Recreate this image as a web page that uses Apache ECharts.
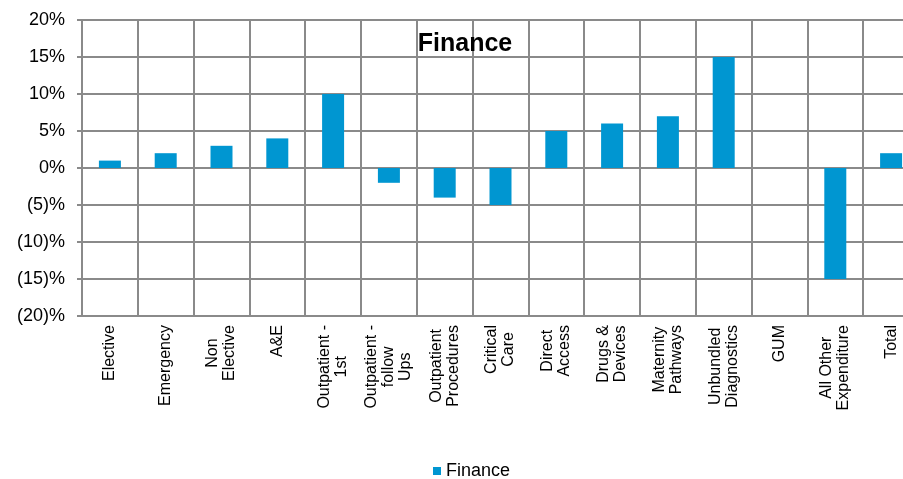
<!DOCTYPE html>
<html>
<head>
<meta charset="utf-8">
<script src="https://cdn.jsdelivr.net/npm/echarts@6/dist/echarts.min.js"></script>
<style>
  html, body { margin: 0; padding: 0; background: #fff; }
  #chart { width: 903px; height: 479px; }
</style>
</head>
<body>
<div id="chart"></div>
<script>
// Spend categories (each label line on its own)
const categories = [
  ['Elective'],
  ['Emergency'],
  ['Non', 'Elective'],
  ['A&E'],
  ['Outpatient -', '1st'],
  ['Outpatient -', 'follow', 'Ups'],
  ['Outpatient', 'Procedures'],
  ['Critical', 'Care'],
  ['Direct', 'Access'],
  ['Drugs &', 'Devices'],
  ['Maternity', 'Pathways'],
  ['Unbundled', 'Diagnostics'],
  ['GUM'],
  ['All Other', 'Expenditure'],
  ['Total']
];

// Variance by category, in percent
const financeValues = [1, 2, 3, 4, 10, -2, -4, -5, 5, 6, 7, 15, 0, -15, 2];

// Value axis range
const yMin = -20;
const yMax = 20;
const yStep = 5;

const seriesName = 'Finance';
const barColor = '#0096d1';
const gridColor = '#8a8a8a';
const font = 'Liberation Sans, Arial, sans-serif';

const chart = echarts.init(document.getElementById('chart'), null, { renderer: 'canvas' });

chart.setOption({
  animation: false,
  backgroundColor: '#ffffff',
  textStyle: { fontFamily: font },
  title: {
    text: 'Finance',
    left: 465,
    top: 32,
    textAlign: 'center',
    padding: 0,
    textStyle: { fontFamily: font, fontSize: 25, fontWeight: 'bold', color: '#000' }
  },
  legend: {
    data: [seriesName],
    left: 433,
    top: 462,
    padding: 0,
    icon: 'rect',
    itemWidth: 8,
    itemHeight: 8,
    itemGap: 5,
    textStyle: { fontFamily: font, fontSize: 18, color: '#000', padding: [0, 0, 0, 0] }
  },
  // the plot runs past the right edge of the canvas, so the last column is cut off
  grid: {
    left: 82, top: 20, width: 837, height: 296,
    containLabel: false,
    outerBoundsMode: 'none'
  },
  xAxis: {
    type: 'category',
    data: categories.map(c => c.join('\n')),
    boundaryGap: true,
    axisLine: { show: false, onZero: false },
    axisTick: { show: false },
    splitLine: { show: true, lineStyle: { color: gridColor, width: 2 } },
    axisLabel: {
      interval: 0,
      rotate: 90,
      margin: 9,
      fontFamily: font,
      fontSize: 16,
      lineHeight: 17,
      color: '#000',
      formatter: v => v.split('\n').map(s => '{c|' + s + '}').join('\n'),
      rich: {
        c: { align: 'center', fontFamily: font, fontSize: 16, lineHeight: 17, color: '#000' }
      }
    }
  },
  yAxis: {
    type: 'value',
    min: yMin,
    max: yMax,
    interval: yStep,
    axisLine: { show: true, lineStyle: { color: gridColor, width: 2 } },
    axisTick: { show: true, length: 5, lineStyle: { color: gridColor, width: 2 } },
    splitLine: { show: true, lineStyle: { color: gridColor, width: 2 } },
    axisLabel: {
      margin: 17,
      fontFamily: font,
      fontSize: 18,
      color: '#000',
      formatter: v => v < 0 ? '(' + (-v) + ')%' : v + '%'
    }
  },
  series: [{
    name: seriesName,
    type: 'bar',
    data: financeValues,
    barWidth: 22,
    itemStyle: { color: barColor }
  }]
});
</script>
</body>
</html>
